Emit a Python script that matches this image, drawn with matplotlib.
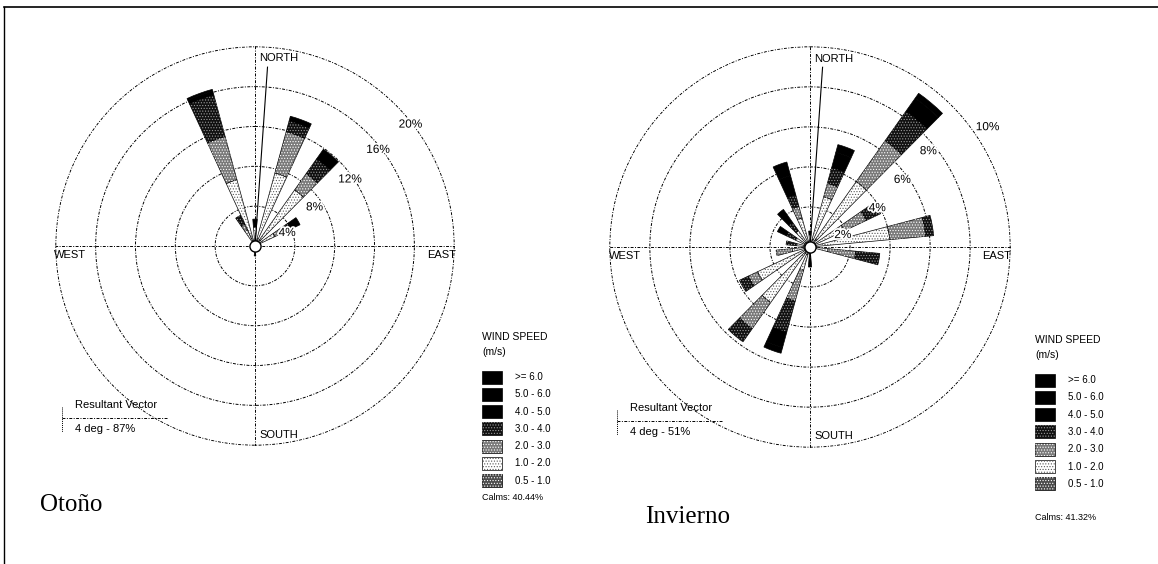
import numpy as np
import matplotlib
matplotlib.use("Agg")
import matplotlib.pyplot as plt
import matplotlib.patheffects as pe
from matplotlib.patches import Rectangle

W, H = 1158, 564

speed_bins = ["0.5 - 1.0", "1.0 - 2.0", "2.0 - 3.0", "3.0 - 4.0",
              "4.0 - 5.0", "5.0 - 6.0", ">= 6.0"]

# Otoño: directions (deg) and frequency (%) per speed bin, in speed_bins order
otono_dirs = [330, 340, 0, 20, 40, 60, 180]
otono_freq = [
    [0.5, 1.3, 0.6, 1.0, 0.0, 0.0, 0.0],   # 330
    [0.8, 6.1, 4.5, 4.3, 0.4, 0.2, 0.0],   # 340
    [0.5, 1.4, 0.0, 0.0, 0.8, 0.0, 0.0],   # 0
    [0.8, 6.8, 4.3, 1.1, 0.5, 0.0, 0.0],   # 20
    [0.8, 6.1, 2.0, 1.8, 1.2, 0.0, 0.0],   # 40
    [0.6, 1.6, 0.8, 1.0, 1.0, 0.0, 0.0],   # 60
    [0.4, 0.0, 0.0, 0.0, 0.6, 0.0, 0.0],   # 180
]
otono_rings = [4, 8, 12, 16, 20]
otono_ring_labels = ["4%", "8%", "12%", "16%", "20%"]
otono_calms = "Calms: 40.44%"
otono_vector = "4 deg - 87%"

# Invierno
invierno_dirs = [0, 20, 40, 60, 80, 100, 180, 200, 220, 240, 260, 280, 300, 320, 340]
invierno_freq = [
    [0.3, 0.3, 0.0, 0.0, 0.2, 0.0, 0.0],   # 0
    [0.4, 2.2, 0.7, 0.8, 0.8, 0.4, 0.0],   # 20
    [0.5, 3.5, 2.5, 1.8, 0.8, 0.3, 0.0],   # 40
    [0.3, 1.6, 1.2, 0.8, 0.0, 0.0, 0.0],   # 60
    [0.3, 3.7, 1.8, 0.4, 0.0, 0.0, 0.0],   # 80
    [0.3, 0.6, 1.4, 1.2, 0.0, 0.0, 0.0],   # 100
    [0.3, 0.0, 0.0, 0.0, 0.7, 0.0, 0.0],   # 180
    [0.4, 0.8, 1.6, 1.6, 0.8, 0.3, 0.0],   # 200
    [0.4, 3.0, 1.6, 0.8, 0.0, 0.0, 0.0],   # 220
    [0.3, 2.6, 0.5, 0.5, 0.0, 0.0, 0.0],   # 240
    [0.3, 0.6, 0.8, 0.0, 0.0, 0.0, 0.0],   # 260
    [0.3, 0.4, 0.0, 0.5, 0.0, 0.0, 0.0],   # 280
    [0.3, 0.5, 0.0, 0.5, 0.5, 0.0, 0.0],   # 300
    [0.3, 0.7, 0.0, 0.5, 0.8, 0.0, 0.0],   # 320
    [0.3, 1.2, 0.6, 0.6, 1.0, 0.7, 0.0],   # 340
]
invierno_rings = [2, 4, 6, 8, 10]
invierno_ring_labels = ["2%", "4%", "6%", "8%", "10%"]
invierno_calms = "Calms: 41.32%"
invierno_vector = "4 deg - 51%"

resultant_dir = 4  # degrees

# fill, hatch, hatch colour for each speed bin
bin_styles = [
    ("#4a4a4a", "......", "white"),
    ("white", "......", "#5a5a5a"),
    ("#7a7a7a", "......", "white"),
    ("#101010", "......", "#9a9a9a"),
    ("black", None, None),
    ("black", None, None),
    ("black", None, None),
]

plt.rcParams["font.family"] = ["Liberation Sans", "DejaVu Sans"]
plt.rcParams["hatch.linewidth"] = 0.5

fig = plt.figure(figsize=(W / 100, H / 100), dpi=100)
fig.patch.set_facecolor("white")

# overlay in pixel coordinates for labels, legend and frame
ov = fig.add_axes([0, 0, 1, 1])
ov.set_xlim(0, W)
ov.set_ylim(H, 0)
ov.axis("off")

grid_ls = (0, (3, 1.5, 1, 1.5))
halo = [pe.withStroke(linewidth=2.5, foreground="white")]


def styled_bar(ax, theta, height, bottom, style, width):
    face, hatch, hcol = style
    ax.bar(theta, height, width=width, bottom=bottom, color=face,
           edgecolor="black", linewidth=0.5, zorder=3)
    if hatch:
        ax.bar(theta, height, width=width, bottom=bottom, facecolor="none",
               edgecolor=hcol, linewidth=0, hatch=hatch, zorder=3.5)


def draw_rose(cx, cy, R, dirs, freq, rings, ring_labels, label_r, label_ang):
    ax = fig.add_axes([(cx - R) / W, (H - cy - R) / H, 2 * R / W, 2 * R / H],
                      projection="polar")
    ax.set_theta_zero_location("N")
    ax.set_theta_direction(-1)
    rmax = rings[-1]
    ax.set_ylim(0, rmax * 1.004)
    ax.set_yticks(rings)
    ax.set_yticklabels([])
    ax.set_xticks(np.radians([0, 90, 180, 270]))
    ax.set_xticklabels([])
    ax.grid(True, color="black", linewidth=0.7, linestyle=grid_ls)
    ax.spines["polar"].set_visible(False)
    ax.patch.set_alpha(0)

    theta = np.radians(dirs)
    vals = np.array(freq)
    width = np.radians(9.5)
    bottom = np.zeros(len(dirs))
    for k in range(len(speed_bins)):
        h = vals[:, k]
        m = h > 0
        if m.any():
            styled_bar(ax, theta[m], h[m], bottom[m], bin_styles[k], width)
        bottom += h

    # resultant vector
    ax.plot([0, np.radians(resultant_dir)], [0, 0.9 * rmax],
            color="black", linewidth=0.8, zorder=4)
    ax.plot([0], [0], "o", ms=8, mfc="white", mec="black", mew=1.0, zorder=5)

    for ring, lab, fr, ang in zip(rings, ring_labels, label_r, label_ang):
        ax.text(np.radians(ang), ring * fr, lab, fontsize=8.5, ha="center",
                va="center", zorder=6, path_effects=halo)
    return ax


draw_rose(255, 246, 200, otono_dirs, otono_freq, otono_rings,
          otono_ring_labels, [0.87, 0.89, 0.97, 0.98, 0.99], [68, 57, 55, 52, 52])
draw_rose(810, 247, 201, invierno_dirs, invierno_freq, invierno_rings,
          invierno_ring_labels, [0.87, 0.97, 0.95, 0.95, 1.07], [70, 60, 54, 51, 56])

txt = dict(fontsize=8, color="black")

# compass labels
for cx, cy in [(255, 246), (810, 247)]:
    ov.text(cx + 4, cy - 188, "NORTH", ha="left", va="center", **txt)
    ov.text(cx + 4, cy + 189, "SOUTH", ha="left", va="center", **txt)
    ov.text(cx - 201, cy + 9, "WEST", ha="left", va="center", **txt)
    ov.text(cx + 201, cy + 9, "EAST", ha="right", va="center", **txt)


def legend(x0, y0, calms, calms_y):
    ov.text(x0, y0, "WIND SPEED", ha="left", va="center", fontsize=7.5)
    ov.text(x0, y0 + 15, "(m/s)", ha="left", va="center", fontsize=7.5)
    for i, k in enumerate(range(len(speed_bins) - 1, -1, -1)):
        y = y0 + 40 + i * 17.3
        face, hatch, hcol = bin_styles[k]
        ov.add_patch(Rectangle((x0, y - 6.5), 20, 13, facecolor=face,
                               edgecolor="black", linewidth=0.5))
        if hatch:
            ov.add_patch(Rectangle((x0, y - 6.5), 20, 13, facecolor="none",
                                   edgecolor=hcol, linewidth=0, hatch=hatch))
        ov.text(x0 + 33, y, speed_bins[k], ha="left", va="center", fontsize=7)
    ov.text(x0, calms_y, calms, ha="left", va="center", fontsize=6.5)


legend(482, 337, otono_calms, 498)
legend(1035, 340, invierno_calms, 517)


def vector_box(x0, y0, label):
    ov.text(x0 + 13, y0 - 13, "Resultant Vector", ha="left", va="center", fontsize=8)
    ov.plot([x0, x0 + 106], [y0, y0], color="black", linewidth=0.7, linestyle=grid_ls)
    ov.plot([x0, x0], [y0 - 11, y0 + 14], color="black", linewidth=0.7, linestyle=(0, (1, 1)))
    ov.text(x0 + 13, y0 + 11, label, ha="left", va="center", fontsize=8)


vector_box(62, 418, otono_vector)
vector_box(617, 421, invierno_vector)

ov.text(40, 505, "Otoño", ha="left", va="center", fontsize=18,
        family=["Liberation Serif", "DejaVu Serif"])
ov.text(645, 517, "Invierno", ha="left", va="center", fontsize=18,
        family=["Liberation Serif", "DejaVu Serif"])

# frame
ov.plot([4, W], [7, 7], color="black", linewidth=1.2)
ov.plot([4, 4], [7, H], color="black", linewidth=1.0)

fig.savefig("out.png", dpi=100, facecolor="white")
